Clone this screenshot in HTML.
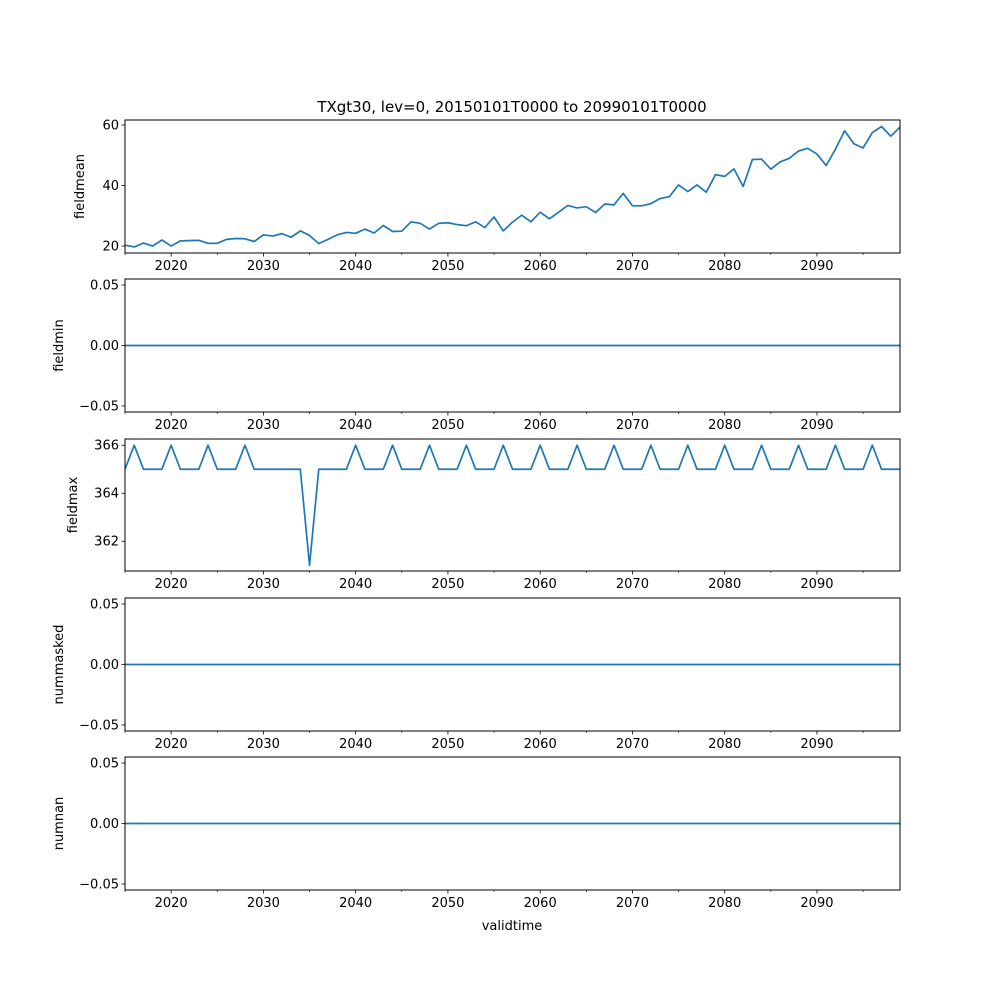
<!DOCTYPE html>
<html><head><meta charset="utf-8"><style>
body{margin:0;background:#fff;}
svg{display:block;font-family:"DejaVu Sans","Liberation Sans",sans-serif;}
</style></head><body>
<svg id="fig" width="1000" height="1000" viewBox="0 0 1000 1000">
<text x="512" y="112" font-size="15" text-anchor="middle">TXgt30, lev=0, 20150101T0000 to 20990101T0000</text>
<text x="512" y="930" font-size="13" text-anchor="middle">validtime</text>
</svg>
<script>
const years = [];
for (let y = 2015; y <= 2099; y++) years.push(y);
const fieldmean = [20.3,19.7,21,20,22,20,21.7,21.8,21.9,20.9,20.9,22.2,22.5,22.4,21.5,23.7,23.3,24.1,22.9,25,23.5,20.8,22.2,23.7,24.5,24.2,25.6,24.3,26.8,24.8,24.9,28,27.5,25.6,27.5,27.7,27.1,26.7,28,26.1,29.6,25,27.9,30.2,28,31.2,29,31.2,33.4,32.6,33,31.1,33.9,33.6,37.4,33.3,33.3,34,35.7,36.3,40.2,38,40.2,37.8,43.6,43,45.5,39.7,48.6,48.7,45.4,47.8,49,51.4,52.3,50.4,46.6,52,58.1,53.8,52.4,57.5,59.5,56.3,59.3];
const fieldmin = years.map(() => 0);
const fieldmax = [365,366,365,365,365,366,365,365,365,366,365,365,365,366,365,365,365,365,365,365,361,365,365,365,365,366,365,365,365,366,365,365,365,366,365,365,365,366,365,365,365,366,365,365,365,366,365,365,365,366,365,365,365,366,365,365,365,366,365,365,365,366,365,365,365,366,365,365,365,366,365,365,365,366,365,365,365,366,365,365,365,366,365,365,365];
const nummasked = years.map(() => 0);
const numnan = years.map(() => 0);
const xTicks = [2020,2030,2040,2050,2060,2070,2080,2090];

const panels = [
 {name:'fieldmean', data:fieldmean, top:120, bot:253, ymin:17.7, ymax:61.65, ticks:[20,40,60], fmt:v=>String(v), lx:84},
 {name:'fieldmin', data:fieldmin, top:279, bot:412, ymin:-0.055, ymax:0.055, ticks:[-0.05,0,0.05], fmt:v=>v.toFixed(2), lx:63},
 {name:'fieldmax', data:fieldmax, top:439, bot:571, ymin:360.76, ymax:366.26, ticks:[362,364,366], fmt:v=>String(v), lx:77},
 {name:'nummasked', data:nummasked, top:598, bot:731, ymin:-0.055, ymax:0.055, ticks:[-0.05,0,0.05], fmt:v=>v.toFixed(2), lx:63},
 {name:'numnan', data:numnan, top:757, bot:890, ymin:-0.055, ymax:0.055, ticks:[-0.05,0,0.05], fmt:v=>v.toFixed(2), lx:63},
];
const L = 125, R = 900, X0 = 2015, X1 = 2099;
const xs = v => L + (v - X0) / (X1 - X0) * (R - L);
const NS = 'http://www.w3.org/2000/svg';
const svg = document.getElementById('fig');
function mk(tag, attrs, parent) {
  const e = document.createElementNS(NS, tag);
  for (const k in attrs) e.setAttribute(k, attrs[k]);
  (parent || svg).appendChild(e);
  return e;
}
panels.forEach(p => {
  const g = mk('g', {});
  
  
  const ys = v => p.bot - (v - p.ymin) / (p.ymax - p.ymin) * (p.bot - p.top);
  const pts = years.map((y, i) => xs(y).toFixed(2) + ',' + ys(p.data[i]).toFixed(2)).join(' ');
  const line = mk('polyline', {points: pts, fill: 'none', stroke: '#1f77b4', 'stroke-width': 1.7, 'stroke-linejoin': 'round'}, g);
  
  
  const frame = mk('rect', {x: L, y: p.top, width: R - L, height: p.bot - p.top, fill: 'none', stroke: '#000', 'stroke-width': 1}, g);
  
  
  for (let y = 2015; y <= 2099; y += 5) {
    const major = y % 10 === 0;
    mk('line', {x1: xs(y), x2: xs(y), y1: p.bot, y2: p.bot + (major ? 3.5 : 2), stroke: '#000', 'stroke-width': major ? 0.8 : 0.6}, g);
  }
  xTicks.forEach(t => {
    const tl = mk('text', {x: xs(t), y: p.bot + 17, 'font-size': 13, 'text-anchor': 'middle'}, g);
    tl.textContent = t;
    
    
  });
  p.ticks.forEach(t => {
    const yy = ys(t);
    mk('line', {x1: L - 3.5, x2: L, y1: yy, y2: yy, stroke: '#000', 'stroke-width': 0.8}, g);
    const tl = mk('text', {x: L - 6, y: yy + 4.5, 'font-size': 13, 'text-anchor': 'end'}, g);
    tl.textContent = p.fmt(t).replace('-', '\u2212');
    
    
  });
  const cy = (p.top + p.bot) / 2;
  const yl = mk('text', {x: p.lx, y: cy, 'font-size': 13, 'text-anchor': 'middle', transform: 'rotate(-90 ' + p.lx + ' ' + cy + ')'}, g);
  yl.textContent = p.name;
  
  
});
</script>
</body></html>
